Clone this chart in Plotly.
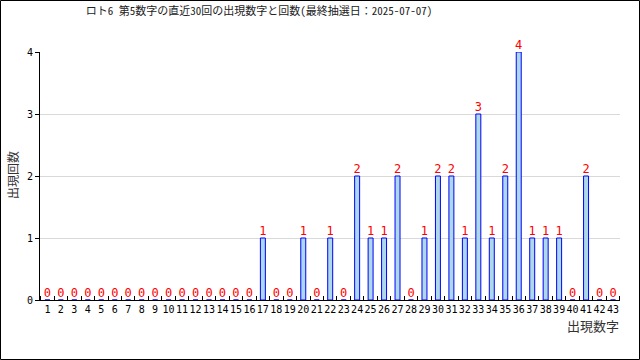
import plotly.graph_objects as go

numbers = list(range(1, 44))
counts = [0]*16 + [1, 0, 0, 1, 0, 1, 0, 2, 1, 1, 2, 0, 1, 2, 2, 1, 3, 1, 2, 4, 1, 1, 1, 0, 2, 0, 0]
tick_labels = [str(n) for n in numbers]

title_text = "ロト6 第5数字の直近30回の出現数字と回数(最終抽選日：2025-07-07)"
mono = "DejaVu Sans Mono, Noto Sans CJK JP, monospace"
cjkmono = "Noto Sans Mono CJK JP, Noto Sans CJK JP, DejaVu Sans Mono, monospace"

W, H = 640, 360
L, R, T, B = 40, 20, 52, 60
pw, ph = W - L - R, H - T - B

fig = go.Figure(go.Bar(
    x=numbers, y=counts, width=0.37,
    marker=dict(color="#add8e6", line=dict(color="#0000ff", width=1)),
    text=[str(c) for c in counts], textposition="outside",
    textfont=dict(color="#ff0000", size=12, family=mono),
    constraintext="none", textangle=0,
    cliponaxis=False, hoverinfo="x+y",
))

fig.update_layout(
    width=W, height=H, margin=dict(l=L, r=R, t=T, b=B, autoexpand=False),
    plot_bgcolor="white", paper_bgcolor="white",
    showlegend=False,
    title=dict(text=title_text, x=259/W, xanchor="center", xref="container",
               y=1-11/H, yanchor="middle", yref="container",
               font=dict(size=11, color="#222", family=cjkmono)),
    font=dict(family=mono, size=10, color="#000"),
    xaxis=dict(range=[0.45, 43.52], tickvals=numbers, ticktext=tick_labels,
               tickangle=0, automargin=False,
               ticks="", showgrid=False, zeroline=False,
               showline=True, linecolor="black", linewidth=1,
               tickfont=dict(size=10, color="#000", family=mono),
               minor=dict(ticks="inside", tick0=0.5, dtick=1, ticklen=4,
                          tickcolor="black", showgrid=False)),
    yaxis=dict(range=[0, 4], dtick=1, ticks="outside", ticklen=4, tickcolor="black",
               automargin=False,
               showgrid=True, gridcolor="#d9d9d9", zeroline=False,
               showline=True, linecolor="black", linewidth=1,
               tickfont=dict(size=10, color="#000", family=mono)),
    annotations=[
        dict(text="出現数字", xref="paper", yref="paper", x=(621 - L)/pw, y=(H - B - 325)/ph,
             xanchor="right", yanchor="middle", showarrow=False,
             font=dict(size=13, color="#333", family="Noto Sans CJK JP")),
        dict(text="出現回数", xref="paper", yref="paper", x=(12 - L)/pw, y=(H - B - 175)/ph,
             xanchor="center", yanchor="middle", textangle=-90, showarrow=False,
             font=dict(size=12, color="#333", family="Noto Sans CJK JP")),
    ],
    shapes=[dict(type="rect", xref="paper", yref="paper",
                 x0=(0.5 - L)/pw, x1=(W - 0.5 - L)/pw,
                 y0=(H - B - (H - 0.5))/ph, y1=(H - B - 0.5)/ph,
                 line=dict(color="black", width=1), fillcolor="rgba(0,0,0,0)", layer="above")],
)

fig.write_html("out.html", config={"displayModeBar": False},
               post_script="document.body.style.margin='0';document.body.style.padding='0';document.body.style.overflow='hidden';")
